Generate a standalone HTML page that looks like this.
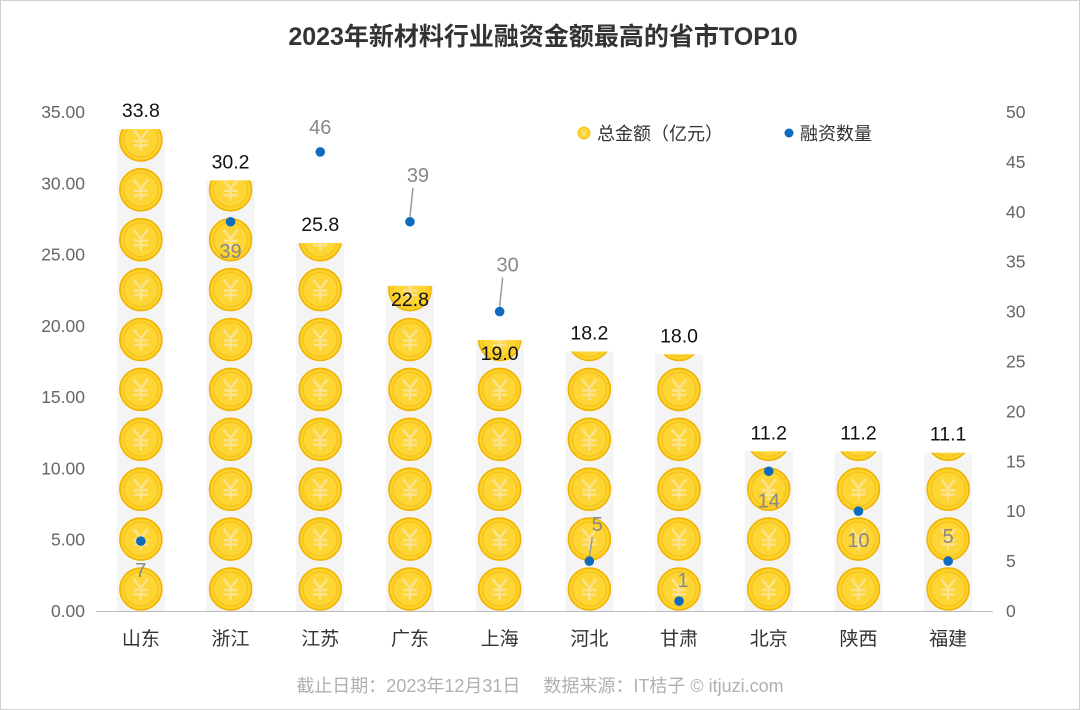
<!DOCTYPE html>
<html><head><meta charset="utf-8">
<style>
html,body{margin:0;padding:0;background:#fff}
svg{display:block;font-family:"Liberation Sans","Noto Sans CJK SC",sans-serif}
</style></head>
<body>
<svg id="chart" width="1080" height="710" viewBox="0 0 1080 710">
<rect x="0.5" y="0.5" width="1079" height="709" fill="#fff" stroke="#d0d0d0"/>
<defs>
<g id="coin">
<circle r="21" fill="#fcd12a" stroke="#efb300" stroke-width="1.6"/>
<circle r="17" fill="#fdd535" stroke="#f6c21c" stroke-width="1.2"/>
<path d="M-7,-10 L0,-1 L7,-10 M0,-1 L0,11 M-7,1 L7,1 M-7,5.5 L7,5.5" stroke="#fbe28c" stroke-width="2.6" fill="none"/>
</g>
</defs>
<text x="543" y="45" text-anchor="middle" font-size="25" font-weight="bold" fill="#333">2023年新材料行业融资金额最高的省市TOP10</text>
<g id="axes"></g>
<g id="bars"></g>
<g id="points"></g>
<g>
<g>
<g transform="translate(584,133) scale(0.3)"><use href="#coin"/></g>
<text x="597" y="140" font-size="18" fill="#333">总金额（亿元）</text>
</g>
<g>
<circle cx="789" cy="133" r="4.5" fill="#0f6cbd"/>
<text x="800" y="140" font-size="18" fill="#333">融资数量</text>
</g>
</g>
<text x="540" y="692" text-anchor="middle" font-size="18" fill="#b0b0b0">截止日期：2023年12月31日　 数据来源：IT桔子 © itjuzi.com</text>
</svg>
<script>
const categories=["山东","浙江","江苏","广东","上海","河北","甘肃","北京","陕西","福建"];
const amounts=[33.8,30.2,25.8,22.8,19.0,18.2,18.0,11.2,11.2,11.1];
const counts=[7,39,46,39,30,5,1,14,10,5];
const leftTicks=[0,5,10,15,20,25,30,35];
const rightTicks=[0,5,10,15,20,25,30,35,40,45,50];
// label placement: 1 = above, -1 = below
const countLabelSide=[-1,-1,1,1,1,1,1,-1,-1,1];
const amountLabelInside=[false,false,false,true,true,false,false,false,false,false];

const NS="http://www.w3.org/2000/svg";
const baseY=611, topY=112, x0=96, x1=993;
const yL=v=>baseY-(v/35)*(baseY-topY);
const yR=v=>baseY-(v/50)*(baseY-topY);
const step=(x1-x0)/categories.length;
const xC=i=>x0+step*(i+0.5);
function mk(tag,attrs,parent){const e=document.createElementNS(NS,tag);for(const k in attrs)e.setAttribute(k,attrs[k]);parent.appendChild(e);return e;}
const axes=document.getElementById('axes'),bars=document.getElementById('bars'),pts=document.getElementById('points');
const defs=document.querySelector('defs');

leftTicks.forEach(t=>{
 const e=mk('text',{x:85,y:yL(t)+6,'text-anchor':'end','font-size':17.5,fill:'#666'},axes);
 e.textContent=t.toFixed(2);
 
 
});
rightTicks.forEach(t=>{
 const e=mk('text',{x:1006,y:yR(t)+6,'text-anchor':'start','font-size':17.5,fill:'#666'},axes);
 e.textContent=t;
 
 
});
const ax=mk('line',{x1:x0,x2:x1,y1:baseY+0.5,y2:baseY+0.5,stroke:'#bbb','stroke-width':1},axes);


categories.forEach((c,i)=>{
 const e=mk('text',{x:xC(i),y:645,'text-anchor':'middle','font-size':19,fill:'#333'},axes);
 e.textContent=c;
 
 
});

amounts.forEach((v,i)=>{
 const cx=xC(i), top=yL(v);
 const g=mk('g',{},bars);
 
 
 mk('rect',{x:cx-24,y:top,width:48,height:baseY-top,fill:'#f4f4f4'},g);
 const cp=mk('clipPath',{id:'cp'+i},defs);
 mk('rect',{x:cx-30,y:top,width:60,height:baseY-top},cp);
 const cg=mk('g',{'clip-path':'url(#cp'+i+')'},g);
 const period=yL(0)-yL(3.5);
 for(let k=0;k*period<baseY-top+30;k++){
  mk('use',{href:'#coin',x:cx,y:baseY-22-k*period},cg);
 }
 const ly=amountLabelInside[i]?top+20:top-12;
 const t=mk('text',{x:cx,y:ly,'text-anchor':'middle','font-size':19.5,fill:'#111'},bars);
 t.textContent=v.toFixed(1);
 
 
});

counts.forEach((v,i)=>{
 const cx=xC(i), cy=yR(v);
 const side=countLabelSide[i];
 let ly;
 if(side>0){
   const off=(i===3||i===4)?40:(i===5?30:(i===6?14:18));
   ly=cy-off;
   if(off>20){
    const ln=mk('line',{x1:cx,y1:cy-5,x2:cx+3,y2:ly+6,stroke:'#999','stroke-width':1.5},pts);
    
    
   }
 } else { ly=cy+36; }
 const c=mk('circle',{cx:cx,cy:cy,r:4.8,fill:'#0f6cbd'},pts);
 
 
 const t=mk('text',{x:cx+(i===6?4:(side>0&&(i===3||i===4||i===5)?8:0)),y:ly,'text-anchor':'middle','font-size':20,fill:'#888'},pts);
 t.textContent=v;
 
 
});
</script>
</body></html>
